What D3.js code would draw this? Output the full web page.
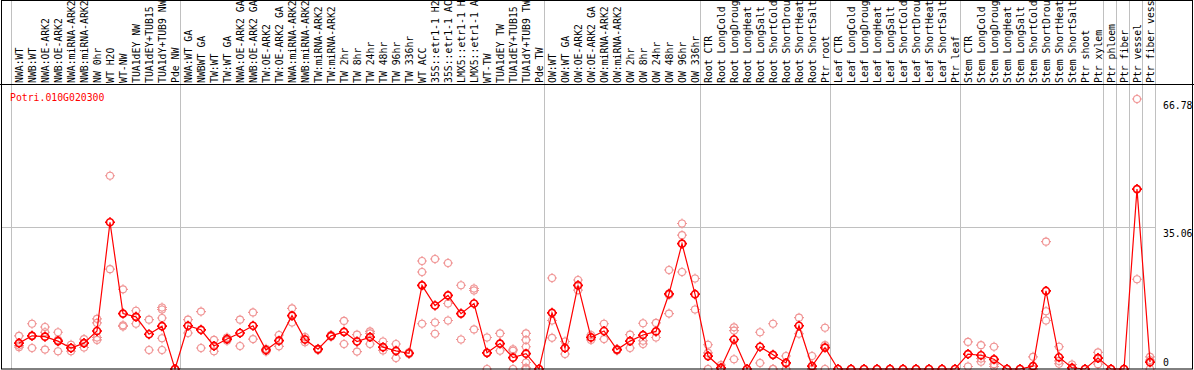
<!DOCTYPE html>
<html>
<head>
<meta charset="utf-8">
<script src="https://cdn.jsdelivr.net/npm/d3@7"></script>
<style>
  body { margin: 0; background: #fff; }
  text { font-family: "DejaVu Sans Mono", monospace; font-size: 9.8px; }
</style>
</head>
<body>
<script>
// sample names, in plot order
const samples = [
  'NWA:WT', 'NWB:WT', 'NWA:OE-ARK2', 'NWB:OE-ARK2', 'NWA:miRNA-ARK2', 'NWB:miRNA-ARK2', 'NW 0hr', 'WT H2O', 'WT-NW',
  'TUA1dEY NW', 'TUA1dEY+TUB15', 'TUA1dY+TUB9 NW', 'Pde NW',
  'NWA:WT GA', 'NWBWT GA', 'TW:WT', 'TW:WT GA', 'NWA:OE-ARK2 GA', 'NWB:OE-ARK2 GA', 'TW:OE-ARK2', 'TW:OE-ARK2 GA',
  'NWA:miRNA-ARK2', 'NWB:miRNA-ARK2', 'TW:miRNA-ARK2', 'TW:miRNA-ARK2', 'TW 2hr', 'TW 8hr', 'TW 24hr', 'TW 48hr',
  'TW 96hr', 'TW 336hr', 'WT ACC', '35S::etr1-1 H2O', '35S::etr1-1 ACC', 'LMX5::etr1-1 H2O', 'LMX5::etr1-1 ACC',
  'WT-TW', 'TUA1dEY TW', 'TUA1dEY+TUB15', 'TUA1dY+TUB9 TW', 'Pde TW',
  'OW:WT', 'OW:WT GA', 'OW:OE-ARK2', 'OW:OE-ARK2 GA', 'OW:miRNA-ARK2', 'OW:miRNA-ARK2', 'OW 2hr', 'OW 8hr',
  'OW 24hr', 'OW 48hr', 'OW 96hr', 'OW 336hr',
  'Root CTR', 'Root LongCold', 'Root LongDrought', 'Root LongHeat', 'Root LongSalt', 'Root ShortCold',
  'Root ShortDrought', 'Root ShortHeat', 'Root ShortSalt', 'Ptr root',
  'Leaf CTR', 'Leaf LongCold', 'Leaf LongDrought', 'Leaf LongHeat', 'Leaf LongSalt', 'Leaf ShortCold',
  'Leaf ShortDrought', 'Leaf ShortHeat', 'Leaf ShortSalt', 'Ptr leaf',
  'Stem CTR', 'Stem LongCold', 'Stem LongDrought', 'Stem LongHeat', 'Stem LongSalt', 'Stem ShortCold',
  'Stem ShortDrought', 'Stem ShortHeat', 'Stem ShortSalt', 'Ptr shoot', 'Ptr xylem',
  'Ptr phloem', 'Ptr fiber', 'Ptr vessel', 'Ptr fiber vessel'
];

// index where each block of samples starts (last one = end)
const groupStarts = [0, 13, 41, 53, 63, 73, 84, 85, 86, 87, 88];

const means = [
  6.4, 8.2, 8.0, 6.9, 5.2, 6.4, 9.4, 36.3, 13.7, 12.9, 8.6, 10.6, 0,
  10.7, 9.7, 5.7, 7.4, 8.9, 10.7, 4.7, 7.0, 13.2, 7.3, 4.9, 8.2, 9.2, 6.8, 7.9, 5.4,
  4.5, 3.9, 20.7, 15.7, 18.2, 13.7, 16.2, 4.0, 6.3, 2.8, 3.8, 0,
  13.9, 5.2, 20.7, 7.8, 9.4, 4.8, 6.9, 8.4, 9.3, 18.6, 31.0, 18.5,
  3.2, 0.3, 7.3, 0, 5.5, 3.5, 1.5, 10.7, 0.7, 5.3,
  0, 0, 0, 0, 0, 0, 0, 0, 0, 0,
  3.7, 3.4, 2.4, 0, 0, 0.7, 19.3, 2.9, 0.3, 0, 2.7,
  0, 0, 44.5, 1.7
];

const replicates = [
  [8.2, 5.8, 5.4], [11.2, 8.2, 5.2], [10.4, 9.1, 4.8], [9.1, 7.2, 4.4], [6.0, 5.2, 4.4], [7.4, 6.4, 5.3],
  [12.4, 11.4, 7.8, 7.2], [47.8, 24.7], [19.7, 10.8, 10.5], [14.4, 12.9, 11.2], [12.2, 4.7],
  [15.2, 14.7, 12.6, 7.6, 4.7], [0],
  [12.2, 8.9], [14.2, 5.2], [7.2, 4.4], [7.8, 7.0], [12.2, 5.7], [14.0, 7.4], [5.0, 4.3], [8.4, 5.6],
  [15.0, 11.5], [7.9, 6.6], [5.0, 4.7], [8.4, 8.0], [11.9, 6.2], [8.5, 4.3], [9.3, 8.8, 6.2], [6.8, 4.6],
  [6.2, 2.7], [4.1, 3.7], [26.7, 24.0, 11.2], [27.2, 11.5, 8.7], [26.2, 16.2, 12.0], [20.7, 7.3],
  [19.9, 19.4, 9.8], [7.8, 4.0, 0], [8.8, 4.5], [4.9, 4.5, 0], [8.8, 7.2, 5.5, 1.6, 0.3, 0], [0],
  [22.5, 12.0, 7.7], [6.8, 3.7], [22.0, 19.5], [8.4, 7.2], [11.2, 7.4], [4.9, 4.6], [8.5, 5.2],
  [11.3, 7.0, 6.2], [11.4, 7.8], [24.5, 18.3, 13.7], [36.0, 33.1, 24.0], [22.4, 14.7],
  [6.0, 4.0, 0], [1.0, 0, 0], [10.3, 9.5, 2.4], [0], [9.1, 1.5], [11.2, 0, 0], [3.2, 1.3, 0],
  [12.7, 8.7], [3.2, 0, 0, 0], [10.2, 5.9, 0],
  [0], [0], [0], [0], [0], [0], [0], [0], [0], [0],
  [6.7, 0.6], [5.9, 2.6, 1.8], [5.5, 1.2, 0.6], [0], [0], [3.0, 0, 0], [31.5, 14.3, 12.0],
  [5.5, 2.0, 1.3], [1.1, 0, 0], [0], [4.1, 2.8, 1.2],
  [0], [0], [66.78, 22.2], [3.0, 2.2, 0]
];

const geneId = 'Potri.010G020300';
const yTicks = [0, 35.06, 66.78];

const width = 1194, height = 370;
const headerBottom = 84.5, plotBottom = 369;
const maxLabelChars = 14; // header only has room for this many

const svg = d3.select('body').append('svg')
    .attr('width', width)
    .attr('height', height)
    .style('display', 'block');

const x = d3.scaleBand()
    .domain(d3.range(samples.length))
    .range([12.5, 1156.5]);

const cx = i => x(i) + x.bandwidth() / 2;

const y = d3.scaleLinear()
    .domain([0, 66.78])
    .range([plotBottom, 99]);

// grid
svg.append('g')
    .selectAll('line')
    .data(groupStarts)
    .enter().append('line')
    .attr('x1', d => Math.round(x.range()[0] + d * x.step()) - 1.5)
    .attr('x2', d => Math.round(x.range()[0] + d * x.step()) - 1.5)
    .attr('y1', 0)
    .attr('y2', plotBottom)
    .attr('stroke', '#c0c0c0');

svg.append('line')
    .attr('x1', 2).attr('x2', 1155)
    .attr('y1', Math.round(y(35.06)) + 0.5)
    .attr('y2', Math.round(y(35.06)) + 0.5)
    .attr('stroke', '#c0c0c0');

// header labels
svg.append('g')
    .selectAll('text')
    .data(samples)
    .enter().append('text')
    .attr('transform', (d, i) => `translate(${cx(i) + 3.5},${headerBottom - 1.5}) rotate(-90)`)
    .attr('fill', '#000')
    .text(d => d.slice(0, maxLabelChars));

svg.append('text')
    .attr('x', 10)
    .attr('y', 101)
    .attr('fill', '#ff0000')
    .text(geneId);

// y tick labels on the right
svg.append('g')
    .selectAll('text')
    .data(yTicks)
    .enter().append('text')
    .attr('x', 1163)
    .attr('y', d => d === 0 ? y(d) - 3 : y(d) + 10)
    .attr('fill', '#000')
    .text(d => d === 0 ? '0' : d3.format('.2f')(d));

// circle with little nubs, like the original bitmap marker
function marker(sel, r) {
    const n = 1.5;
    sel.append('circle').attr('r', r).attr('fill', 'none');
    sel.append('path')
        .attr('d', `M0,${-r - n}V${-r}M0,${r}V${r + n}M${-r - n},0H${-r}M${r},0H${r + n}`);
}

const repData = [];
replicates.forEach((vals, i) => vals.forEach(v => repData.push({ i: i, v: v })));

svg.append('g')
    .attr('stroke', '#f09494')
    .attr('stroke-width', 1.1)
    .selectAll('g')
    .data(repData)
    .enter().append('g')
    .attr('transform', d => `translate(${cx(d.i)},${y(d.v)})`)
    .call(marker, 3.5);

const line = d3.line()
    .x((d, i) => cx(i))
    .y(d => y(d));

svg.append('path')
    .datum(means)
    .attr('d', line)
    .attr('fill', 'none')
    .attr('stroke', '#ff0000')
    .attr('stroke-width', 1.2);

svg.append('g')
    .attr('stroke', '#ff0000')
    .attr('stroke-width', 1.7)
    .selectAll('g')
    .data(means)
    .enter().append('g')
    .attr('transform', (d, i) => `translate(${cx(i)},${y(d)})`)
    .call(marker, 3.5);

// frame
svg.append('rect')
    .attr('x', 1.5).attr('y', 0.5)
    .attr('width', 1191).attr('height', plotBottom - 0.5)
    .attr('fill', 'none')
    .attr('stroke', '#000');

svg.append('line')
    .attr('x1', 0).attr('x2', width)
    .attr('y1', headerBottom).attr('y2', headerBottom)
    .attr('stroke', '#000');
</script>
</body>
</html>
